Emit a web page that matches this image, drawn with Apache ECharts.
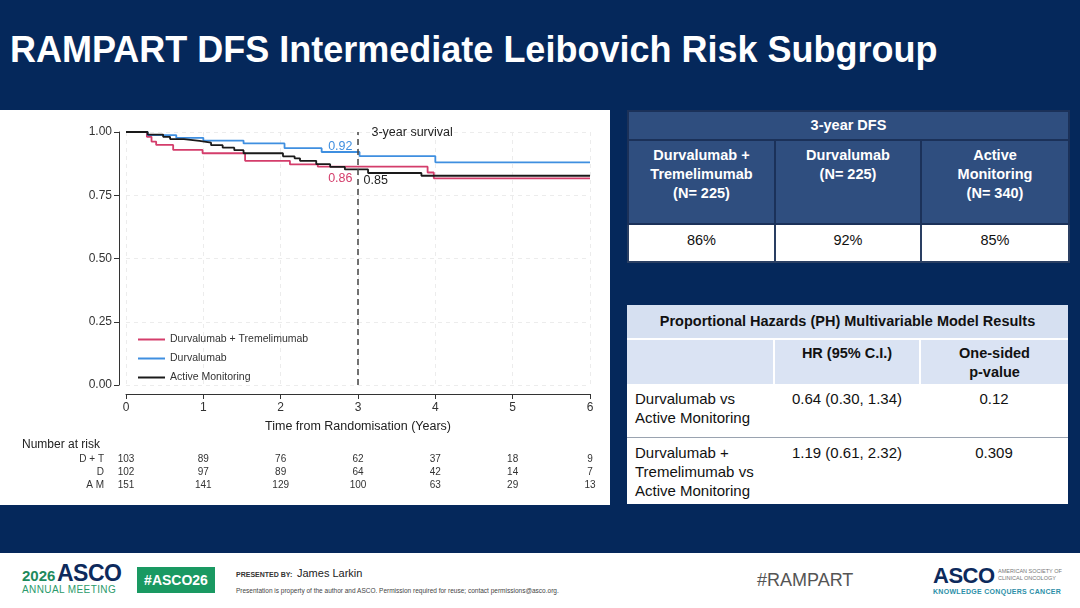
<!DOCTYPE html>
<html>
<head>
<meta charset="utf-8">
<title>RAMPART DFS Intermediate Leibovich Risk Subgroup</title>
<script src="https://cdn.jsdelivr.net/npm/echarts@6.0.0/dist/echarts.min.js"></script>
<style>
  html, body { margin: 0; padding: 0; }
  body {
    width: 1080px; height: 608px; position: relative; overflow: hidden;
    background: #05285b;
    font-family: Arial, "Liberation Sans", sans-serif;
  }
  .abs { position: absolute; }
  #title {
    left: 10px; top: 29px; color: #fff; font-weight: bold; font-size: 36px;
    white-space: nowrap;
  }
  #panel { left: 0; top: 110px; width: 610px; height: 395px; background: #fff; }
  #chart { width: 610px; height: 395px; }

  .tbl { border-collapse: collapse; table-layout: fixed; }
  .tbl td { padding: 0; }
  #dfs { left: 627px; top: 110px; width: 441px; }
  #dfs td { border: 2px solid #1b3159; color: #fff; font-weight: bold; font-size: 14.5px; line-height: 19px; text-align: center; }
  #dfs .hd { background: #2f4e7f; height: 27px; }
  #dfs .grp td { background: #2f4e7f; height: 77px; vertical-align: top; padding-top: 5px; }
  #dfs .val td { background: #fff; color: #111; font-weight: normal; height: 30px; vertical-align: top; padding-top: 6px; border-color: #2a3f63; }

  #ph { left: 627px; top: 305px; width: 441px; }
  #ph td { font-size: 15px; line-height: 19px; color: #111; }
  #ph .hd td { background: #d6e0f1; height: 33px; font-weight: bold; text-align: center; font-size: 14.5px; border-bottom: 2px solid #fff; }
  #ph .sub td { background: #dae3f3; height: 40px; font-weight: bold; text-align: center; vertical-align: top; padding-top: 4px; font-size: 14.5px; border-left: 2px solid #fff; }
  #ph .sub td:first-child { border-left: none; }
  #ph .row td { background: #fff; vertical-align: top; padding-top: 5px; }
  #ph .row td.c { text-align: center; }
  #ph .row td.l { padding-left: 8px; }
  #ph .r1 td { height: 48px; border-bottom: 1.5px solid #9aa3b0; }
  #ph .r2 td { height: 61px; }

  #footer { left: 0; top: 553px; width: 1080px; height: 55px; background: #fff; }
  .f { position: absolute; white-space: nowrap; }
</style>
</head>
<body>
<div id="title" class="abs">RAMPART DFS Intermediate Leibovich Risk Subgroup</div>

<div id="panel" class="abs"><div id="chart"></div></div>

<table id="dfs" class="abs tbl">
  <colgroup><col style="width:147px"><col style="width:146px"><col style="width:148px"></colgroup>
  <tr><td class="hd" colspan="3">3-year DFS</td></tr>
  <tr class="grp">
    <td>Durvalumab +<br>Tremelimumab<br>(N= 225)</td>
    <td>Durvalumab<br>(N= 225)</td>
    <td>Active<br>Monitoring<br>(N= 340)</td>
  </tr>
  <tr class="val"><td>86%</td><td>92%</td><td>85%</td></tr>
</table>

<table id="ph" class="abs tbl">
  <colgroup><col style="width:147px"><col style="width:146px"><col style="width:148px"></colgroup>
  <tr class="hd"><td colspan="3">Proportional Hazards (PH) Multivariable Model Results</td></tr>
  <tr class="sub"><td></td><td>HR (95% C.I.)</td><td>One-sided<br>p-value</td></tr>
  <tr class="row r1"><td class="l">Durvalumab vs<br>Active Monitoring</td><td class="c">0.64 (0.30, 1.34)</td><td class="c">0.12</td></tr>
  <tr class="row r2"><td class="l">Durvalumab +<br>Tremelimumab vs<br>Active Monitoring</td><td class="c">1.19 (0.61, 2.32)</td><td class="c">0.309</td></tr>
</table>

<div id="footer" class="abs">
  <div class="f" style="left:22px;top:14px;color:#1e8a5c;font-weight:bold;font-size:15px;">2026</div>
  <div class="f" style="left:57px;top:7px;color:#0d2a5c;font-weight:bold;font-size:23px;letter-spacing:-0.5px;">ASCO</div>
  <div class="f" style="left:22px;top:31px;color:#2a9a6a;font-size:10px;letter-spacing:0.4px;">ANNUAL MEETING</div>
  <div class="f" style="left:137px;top:14px;width:78px;height:26px;background:#1a9962;color:#fff;font-weight:bold;font-size:14px;line-height:26px;text-align:center;">#ASCO26</div>
  <div class="f" style="left:236px;top:18px;color:#333;font-weight:bold;font-size:7px;">PRESENTED BY:</div>
  <div class="f" style="left:297px;top:14px;color:#222;font-size:11px;">James Larkin</div>
  <div class="f" style="left:236px;top:34px;color:#444;font-size:6.5px;">Presentation is property of the author and ASCO. Permission required for reuse; contact permissions@asco.org.</div>
  <div class="f" style="left:757px;top:17px;color:#555;font-size:18px;">#RAMPART</div>
  <div class="f" style="left:933px;top:10px;color:#0d2a5c;font-weight:bold;font-size:22px;letter-spacing:-0.5px;">ASCO</div>
  <div class="f" style="left:998px;top:15px;color:#777;font-size:5.5px;line-height:7px;">AMERICAN SOCIETY OF<br>CLINICAL ONCOLOGY</div>
  <div class="f" style="left:933px;top:35px;color:#2c8fa8;font-weight:bold;font-size:7px;letter-spacing:0.3px;">KNOWLEDGE CONQUERS CANCER</div>
</div>

<script>
// 坐标轴刻度
const years = [0, 1, 2, 3, 4, 5, 6];

// 风险人数
const riskDT = [103, 89, 76, 62, 37, 18, 9];
const riskD = [102, 97, 89, 64, 42, 14, 7];
const riskAM = [151, 141, 129, 100, 63, 29, 13];

// KM 曲线
const dtTimes = [0, 0.27, 0.33, 0.39, 0.61, 0.99, 1.54, 2.12, 2.48, 3.9, 3.98, 6.0];
const dtSurv = [1.00, 0.981, 0.962, 0.949, 0.929, 0.916, 0.886, 0.872, 0.863, 0.84, 0.817, 0.817];

const dTimes = [0, 0.28, 0.65, 1.0, 1.52, 2.05, 2.53, 3.02, 4.0, 6.0];
const dSurv = [1.00, 0.988, 0.977, 0.966, 0.955, 0.936, 0.921, 0.905, 0.88, 0.88];

const amTimes = [0, 0.28, 0.48, 0.57, 0.75, 0.95, 1.1, 1.25, 1.4, 1.52, 2.03, 2.18, 2.25, 2.46, 2.64, 2.83, 3.13, 3.82, 6.0];
const amSurv = [1.00, 0.99, 0.981, 0.972, 0.965, 0.958, 0.948, 0.938, 0.928, 0.916, 0.904, 0.896, 0.886, 0.873, 0.862, 0.852, 0.838, 0.827, 0.827];

const seriesNames = ['Durvalumab + Tremelimumab', 'Durvalumab', 'Active Monitoring'];
const seriesColors = ['#d43d6b', '#3f8fe0', '#1a1a1a'];

function zip(xs, ys) {
  return xs.map((x, i) => [x, ys[i]]);
}

const textColor = '#333';
const chart = echarts.init(document.getElementById('chart'));

function riskAxis(name, values, offset) {
  return {
    type: 'value', gridIndex: 0, position: 'bottom', offset: offset,
    min: 0, max: 6, interval: 1,
    axisLine: { show: false, onZero: false }, axisTick: { show: false }, splitLine: { show: false },
    axisLabel: {
      margin: 0, verticalAlign: 'middle', fontSize: 10, color: textColor,
      formatter: function(v) { return values[years.indexOf(v)]; }
    },
    name: name, nameLocation: 'start', nameGap: 22,
    nameTextStyle: { fontSize: 10, color: textColor, verticalAlign: 'middle', align: 'right' }
  };
}

const option = {
  animation: false,
  textStyle: { fontFamily: 'Arial, "Liberation Sans", sans-serif' },
  grid: { left: 126, right: 20, top: 22, bottom: 120 },
  legend: {
    orient: 'vertical', left: 133, top: 219, itemGap: 8,
    icon: 'rect', itemWidth: 27, itemHeight: 2,
    textStyle: { fontSize: 10.5, color: textColor },
    data: seriesNames
  },
  graphic: [{
    type: 'text', left: 22, top: 329,
    style: { text: 'Number at risk', fontSize: 12, fill: '#222', fontFamily: 'Arial, "Liberation Sans", sans-serif' }
  }],
  xAxis: [
    {
      type: 'value', min: 0, max: 6, interval: 1, offset: 9,
      axisLine: { show: true, onZero: false, lineStyle: { color: '#333', width: 1 } },
      axisTick: { show: true, length: 5, lineStyle: { color: '#333' } },
      axisLabel: { fontSize: 12, color: textColor, margin: 8 },
      splitLine: { show: true, lineStyle: { color: '#ececec', type: [4, 4] } },
      name: 'Time from Randomisation (Years)', nameLocation: 'middle', nameGap: 26,
      nameTextStyle: { fontSize: 12.5, color: '#222' }
    },
    riskAxis('D + T', riskDT, 74),
    riskAxis('D', riskD, 87),
    riskAxis('A M', riskAM, 100)
  ],
  yAxis: {
    type: 'value', min: 0, max: 1, interval: 0.25, offset: 7,
    axisLine: { show: true, onZero: false, lineStyle: { color: '#333', width: 1 } },
    axisTick: { show: true, length: 5, lineStyle: { color: '#333' } },
    axisLabel: { fontSize: 12, color: textColor, margin: 7, formatter: v => v.toFixed(2) },
    splitLine: { show: true, lineStyle: { color: '#ececec', type: [4, 4] } }
  },
  series: [
    {
      name: seriesNames[0], type: 'line', step: 'end', symbol: 'none',
      data: zip(dtTimes, dtSurv), color: seriesColors[0],
      lineStyle: { width: 1.8 },
      markPoint: {
        symbol: 'circle', symbolSize: 1, itemStyle: { color: 'transparent' }, silent: true,
        data: [{ coord: [3, 0.86], label: { show: true, formatter: '0.86', position: 'left', distance: 5, offset: [0, 11], color: seriesColors[0], fontSize: 12.5 } }]
      }
    },
    {
      name: seriesNames[1], type: 'line', step: 'end', symbol: 'none',
      data: zip(dTimes, dSurv), color: seriesColors[1],
      lineStyle: { width: 1.8 },
      markPoint: {
        symbol: 'circle', symbolSize: 1, itemStyle: { color: 'transparent' }, silent: true,
        data: [{ coord: [3, 0.92], label: { show: true, formatter: '0.92', position: 'left', distance: 5, offset: [0, -6], color: seriesColors[1], fontSize: 12.5 } }]
      }
    },
    {
      name: seriesNames[2], type: 'line', step: 'end', symbol: 'none',
      data: zip(amTimes, amSurv), color: seriesColors[2],
      lineStyle: { width: 1.8 },
      markPoint: {
        symbol: 'circle', symbolSize: 1, itemStyle: { color: 'transparent' }, silent: true,
        data: [
          { coord: [3, 0.85], label: { show: true, formatter: '0.85', position: 'right', distance: 5, offset: [0, 11], color: '#222', fontSize: 12.5 } },
          { coord: [3, 1.0], label: { show: true, formatter: '3-year survival', position: 'right', distance: 13, offset: [0, 1], color: '#222', fontSize: 12.5 } }
        ]
      },
      markLine: {
        silent: true, symbol: 'none',
        lineStyle: { color: '#444', type: [6, 4], width: 1.5 },
        label: { show: false },
        data: [{ xAxis: 3 }]
      }
    }
  ]
};

chart.setOption(option);
</script>
</body>
</html>
